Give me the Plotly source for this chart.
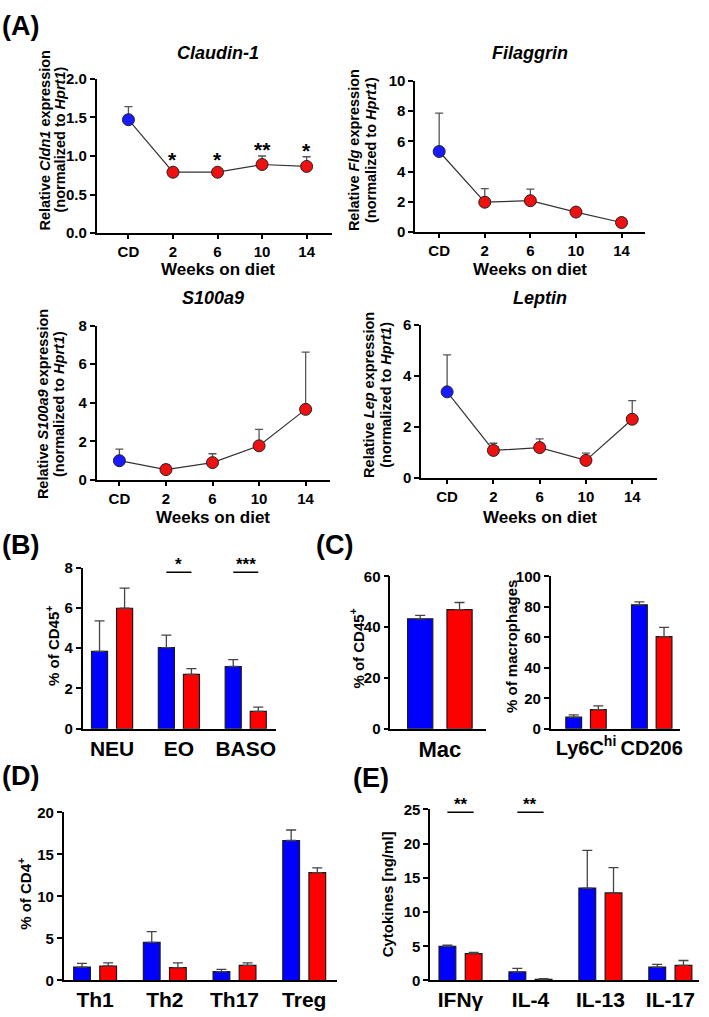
import plotly.graph_objects as go

# ---------------- data ----------------
weeks = ["CD", "2", "6", "10", "14"]
cldn1_mean = [1.47, 0.79, 0.79, 0.89, 0.865]
cldn1_upper = [1.64, 0.80, 0.80, 1.00, 0.99]
cldn1_sig = ["", "*", "*", "**", "*"]
flg_mean = [5.33, 1.98, 2.08, 1.33, 0.64]
flg_upper = [7.86, 2.88, 2.84, 1.40, 0.68]
s100a9_mean = [1.00, 0.54, 0.90, 1.77, 3.66]
s100a9_upper = [1.60, 0.80, 1.36, 2.62, 6.63]
lep_mean = [3.37, 1.08, 1.19, 0.69, 2.30]
lep_upper = [4.82, 1.36, 1.53, 0.97, 3.03]

gran_cats = ["NEU", "EO", "BASO"]
gran_cd = [3.84, 4.03, 3.09]
gran_cd_upper = [5.35, 4.65, 3.43]
gran_hfd = [5.98, 2.70, 0.86]
gran_hfd_upper = [6.98, 2.98, 1.07]
gran_sig = ["", "*", "***"]

mac_cats = ["Mac"]
mac_cd = [43.3]
mac_cd_upper = [44.6]
mac_hfd = [46.9]
mac_hfd_upper = [49.7]
mac_sig = [""]

macsub_cats = ["Ly6C<sup>hi</sup>", "CD206"]
macsub_cd = [7.6, 81.3]
macsub_cd_upper = [9.1, 83.2]
macsub_hfd = [12.5, 60.5]
macsub_hfd_upper = [15.0, 66.5]
macsub_sig = ["", "*"]

th_cats = ["Th1", "Th2", "Th17", "Treg"]
th_cd = [1.60, 4.53, 1.05, 16.65]
th_cd_upper = [2.03, 5.81, 1.32, 17.9]
th_hfd = [1.72, 1.52, 1.79, 12.83]
th_hfd_upper = [2.10, 2.10, 2.10, 13.4]
th_sig = ["", "*", "*", "**"]

cyt_cats = ["IFNγ", "IL-4", "IL-13", "IL-17"]
cyt_cd = [4.98, 1.25, 13.5, 1.96]
cyt_cd_upper = [5.17, 1.77, 19.0, 2.34]
cyt_hfd = [3.93, 0.15, 12.8, 2.20]
cyt_hfd_upper = [4.12, 0.25, 16.5, 2.92]
cyt_sig = ["**", "**", "", ""]

# ---------------- style ----------------
W, H = 709, 1017
FONT = "Liberation Sans, Arial, Helvetica, sans-serif"
BAR_BLUE, BAR_RED = "#0000ff", "#ff0000"
MK_BLUE, MK_RED = "#1a1aff", "#ee1111"
ERR_COL = "#555555"

fig = go.Figure()
layout = dict(
    width=W, height=H, margin=dict(l=0, r=0, t=0, b=0),
    paper_bgcolor="white", plot_bgcolor="white",
    showlegend=False, barmode="group", bargap=0.25, bargroupgap=0.36,
    font=dict(family=FONT, color="black"),
)
annotations = []


def fx(px):
    return px / W


def fy(py):
    return 1 - py / H


def bold(s):
    return f"<b>{s}</b>"


def axes(n, box, xr, yr, dtick, tickvals, ticktext, xfont, xticks, yfmt="{:g}"):
    (x0, x1), (ytop, ybot) = box
    xs = "" if n == 1 else str(n)
    yvals = []
    v = yr[0]
    while v <= yr[1] + 1e-9:
        yvals.append(round(v, 6))
        v += dtick
    layout["xaxis" + xs] = dict(
        domain=[fx(x0), fx(x1)], range=xr, anchor="y" + xs,
        showline=True, linecolor="black", linewidth=1.6, mirror=False,
        ticks=xticks, ticklen=4, tickwidth=1.5, tickcolor="black",
        tickvals=tickvals, ticktext=[bold(t) for t in ticktext], tickangle=0,
        tickfont=dict(family=FONT, size=xfont, color="black"),
        showgrid=False, zeroline=False, fixedrange=True,
    )
    layout["yaxis" + xs] = dict(
        domain=[fy(ybot), fy(ytop)], range=yr, anchor="x" + xs,
        showline=True, linecolor="black", linewidth=1.6,
        ticks="outside", ticklen=5, tickwidth=1.5, tickcolor="black",
        tickvals=yvals, ticktext=[bold(yfmt.format(t)) for t in yvals],
        tickfont=dict(family=FONT, size=15, color="black"),
        showgrid=False, zeroline=False, fixedrange=True,
    )
    return ("x" + xs, "y" + xs)


def text(t, x, y, size, xref="paper", yref="paper", xanchor="center",
         yanchor="middle", angle=0, yshift=0):
    annotations.append(dict(
        text=bold(t), x=x, y=y, xref=xref, yref=yref, xanchor=xanchor,
        yanchor=yanchor, textangle=angle, showarrow=False, yshift=yshift,
        font=dict(family=FONT, size=size, color="black"),
    ))


# ---------------- panel A: line plots ----------------
line_panels = [
    dict(n=1, mean=cldn1_mean, up=cldn1_upper, sig=cldn1_sig,
         box=((97, 333), (71, 228)), xr=[-0.715, 4.56], yr=[0, 2], dtick=0.5, fmt="{:.1f}",
         title="Claudin-1", title_y=45, gene="Cldn1", ylx=(45, 60), yly=133, xty=265),
    dict(n=2, mean=flg_mean, up=flg_upper, sig=None,
         box=((417, 648), (73, 227)), xr=[-0.525, 4.52], yr=[0, 10], dtick=2, fmt="{:g}",
         title="Filaggrin", title_y=45, gene="Flg", ylx=(355, 372), yly=143, xty=265),
    dict(n=3, mean=s100a9_mean, up=s100a9_upper, sig=None,
         box=((97, 331), (322, 479)), xr=[-0.49, 4.515], yr=[0, 8], dtick=2, fmt="{:g}",
         title="S100a9", title_y=294, gene="S100a9", ylx=(43, 60), yly=402, xty=517),
    dict(n=4, mean=lep_mean, up=lep_upper, sig=None,
         box=((423, 660), (321, 477)), xr=[-0.56, 4.54], yr=[0, 6], dtick=2, fmt="{:g}",
         title="Leptin", title_y=294, gene="Lep", ylx=(371, 388), yly=392, xty=517),
]

xpos = list(range(len(weeks)))
for p in line_panels:
    xa, ya = axes(p["n"], p["box"], p["xr"], p["yr"], p["dtick"], xpos, weeks, 15,
                  "outside", p["fmt"])
    fig.add_trace(go.Scatter(
        x=xpos, y=p["mean"], mode="lines", xaxis=xa, yaxis=ya,
        line=dict(color="#333333", width=1.2), cliponaxis=False,
        error_y=dict(type="data", symmetric=False,
                     array=[u - m for u, m in zip(p["up"], p["mean"])],
                     arrayminus=[0] * len(xpos), color=ERR_COL, thickness=1.3, width=4),
    ))
    fig.add_trace(go.Scatter(
        x=xpos, y=p["mean"], mode="markers", xaxis=xa, yaxis=ya, cliponaxis=False,
        marker=dict(size=12, color=[MK_BLUE] + [MK_RED] * (len(xpos) - 1),
                    line=dict(color="#222222", width=1)),
    ))
    text(f"<i>{p['title']}</i>", 2, fy(p["title_y"]), 18, xref=xa)
    text("Weeks on diet", 2, fy(p["xty"]), 17, xref=xa)
    text(f"Relative <i>{p['gene']}</i> expression", fx(p["ylx"][0]), fy(p["yly"]), 14.5, angle=-90)
    text("(normalized to <i>Hprt1</i>)", fx(p["ylx"][1]), fy(p["yly"]), 14.5, angle=-90)
    if p["sig"]:
        (ytop, ybot) = p["box"][1]
        r = 6 / ((ybot - ytop) / (p["yr"][1] - p["yr"][0]))
        for i, s in enumerate(p["sig"]):
            if s:
                anchor = max(p["up"][i], p["mean"][i] + r)
                text(s, i, anchor, 21, xref=xa, yref=ya, yanchor="bottom", yshift=-7)

# ---------------- bar panels ----------------
bar_panels = [
    dict(n=5, cats=gran_cats, cd=gran_cd, cdu=gran_cd_upper, hfd=gran_hfd, hfdu=gran_hfd_upper,
         sig=gran_sig, sig_y=7.76, box=((83, 277), (568, 732)), xr=[-0.44, 2.45], yr=[0, 8],
         dtick=2, ylab="% of CD45<sup>+</sup>", ylx=52, yly=648, xfont=21),
    dict(n=6, cats=mac_cats, cd=mac_cd, cdu=mac_cd_upper, hfd=mac_hfd, hfdu=mac_hfd_upper,
         sig=mac_sig, sig_y=None, box=((392, 488), (577, 732)), xr=[-0.472, 0.439], yr=[0, 60],
         dtick=20, ylab="% of CD45<sup>+</sup>", ylx=358, yly=650, xfont=22),
    dict(n=7, cats=macsub_cats, cd=macsub_cd, cdu=macsub_cd_upper, hfd=macsub_hfd,
         hfdu=macsub_hfd_upper, sig=macsub_sig, sig_y=100.6, box=((553, 683), (577, 732)),
         xr=[-0.538, 1.432], yr=[0, 100], dtick=20, ylab="% of macrophages", ylx=513, yly=648,
         xfont=20),
    dict(n=8, cats=th_cats, cd=th_cd, cdu=th_cd_upper, hfd=th_hfd, hfdu=th_hfd_upper,
         sig=th_sig, sig_y=20.35, box=((64, 338), (817, 988)), xr=[-0.45, 3.464], yr=[0, 20],
         dtick=5, ylab="% of CD4<sup>+</sup>", ylx=25, yly=900, xfont=21),
    dict(n=9, cats=cyt_cats, cd=cyt_cd, cdu=cyt_cd_upper, hfd=cyt_hfd, hfdu=cyt_hfd_upper,
         sig=cyt_sig, sig_y=24.6, box=((432, 702), (814, 988)), xr=[-0.434, 3.41], yr=[0, 25],
         dtick=5, ylab="Cytokines [ng/ml]", ylx=390, yly=900, xfont=21),
]

half = (1 - 0.25) / 4  # offset of each bar centre from its group centre
for p in bar_panels:
    pos = list(range(len(p["cats"])))
    xa, ya = axes(p["n"], p["box"], p["xr"], p["yr"], p["dtick"], pos, p["cats"], p["xfont"], "")
    for vals, ups, col in ((p["cd"], p["cdu"], BAR_BLUE), (p["hfd"], p["hfdu"], BAR_RED)):
        fig.add_trace(go.Bar(
            x=pos, y=vals, xaxis=xa, yaxis=ya, cliponaxis=False,
            marker=dict(color=col, line=dict(color="#1a1a1a", width=1.2)),
            error_y=dict(type="data", symmetric=False,
                         array=[u - v for u, v in zip(ups, vals)],
                         arrayminus=[0] * len(vals), color="#444444", thickness=1.3, width=5),
        ))
    text(p["ylab"], fx(p["ylx"]), fy(p["yly"]), 15, angle=-90)
    for i, s in enumerate(p["sig"]):
        if s:
            fig.add_trace(go.Scatter(
                x=[i - half, i + half], y=[p["sig_y"]] * 2, mode="lines",
                xaxis=xa, yaxis=ya, cliponaxis=False,
                line=dict(color="black", width=1.5),
            ))
            text(s, i, p["sig_y"], 17, xref=xa, yref=ya, yanchor="bottom", yshift=-4)

# ---------------- panel letters ----------------
for lab, x, y in (("(A)", 0, 17), ("(B)", 0, 545), ("(C)", 315, 545),
                  ("(D)", 0, 780), ("(E)", 352, 782)):
    text(lab, fx(x), fy(y), 27, xanchor="left")

layout["annotations"] = annotations
fig.update_layout(**layout)
fig.write_html("out.html")
